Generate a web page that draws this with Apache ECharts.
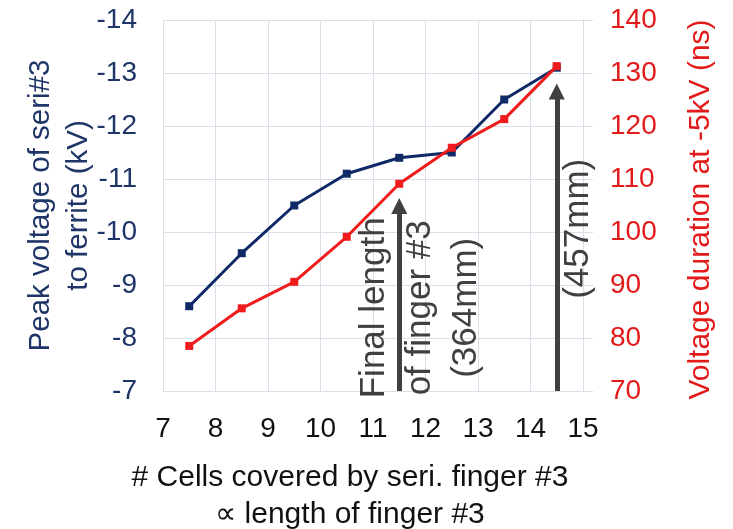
<!DOCTYPE html>
<html>
<head>
<meta charset="utf-8">
<script src="https://cdn.jsdelivr.net/npm/echarts@6/dist/echarts.min.js"></script>
<style>
  html, body { margin: 0; padding: 0; background: #ffffff; }
  #chart { width: 733px; height: 529px; }
</style>
</head>
<body>
<div id="chart"></div>
<script>
// Number of cells covered by the serial finger #3
const cells = [7.5, 8.5, 9.5, 10.5, 11.5, 12.5, 13.5, 14.5];
// Peak voltage of seri#3 to ferrite (kV)
const peakVoltage = [-8.6, -9.6, -10.5, -11.1, -11.4, -11.5, -12.5, -13.1];
// Voltage duration at -5kV (ns)
const duration = [78.5, 85.6, 90.6, 99.1, 109.1, 115.9, 121.3, 131.3];

// Axis ranges
const xRange = [7, 15];
const leftRange = [-14, -7];
const rightRange = [70, 140];

// Final-length markers: [cells, arrow head centre (ns)]
const finalMarks = [[11.5, 104.9], [14.5, 126.5]];
const markLabels = ['Final length\nof finger #3\n(364mm)', '(457mm)'];
// Label anchors in data space: [cells, ns]
const labelAnchors = [[11.9, 85.7], [14.91, 100.6]];

const FONT = '"Liberation Sans", Arial, sans-serif';
const NAVY = '#0f2a66';
const NAVY_TEXT = '#1f3567';
const RED = '#ee1c1c';
const RED_TEXT = '#e21a1a';
const GRID = '#d9dee8';
const ANNOT = '#404040';

const chart = echarts.init(document.getElementById('chart'), null, { renderer: 'canvas' });

const option = {
  backgroundColor: '#ffffff',
  animation: false,
  grid: {
    left: 163, right: 150, top: 20, bottom: 138,
    containLabel: false,
    outerBoundsMode: 'none'
  },
  xAxis: {
    type: 'value',
    min: xRange[0], max: xRange[1], interval: 1,
    axisLine: { show: true, lineStyle: { color: GRID, width: 1 } },
    axisTick: { show: false },
    splitLine: { show: true, lineStyle: { color: GRID, width: 1 } },
    axisLabel: { color: '#111111', fontSize: 28, fontFamily: FONT, margin: 24 },
    name: '# Cells covered by seri. finger #3\n\u221D length of finger #3',
    nameLocation: 'middle',
    nameGap: 105,
    nameMoveOverlap: false,
    nameTextStyle: {
      color: '#111111', fontSize: 30, fontFamily: FONT, lineHeight: 37,
      verticalAlign: 'middle', padding: [0, 46, 0, 0]
    }
  },
  yAxis: [
    {
      type: 'value',
      inverse: true,
      min: leftRange[0], max: leftRange[1], interval: 1,
      axisLine: { show: true, lineStyle: { color: GRID, width: 1 } },
      axisTick: { show: false },
      splitLine: { show: true, lineStyle: { color: GRID, width: 1 } },
      axisLabel: { color: NAVY_TEXT, fontSize: 28, fontFamily: FONT, margin: 26 },
      name: 'Peak voltage of seri#3\nto ferrite (kV)',
      nameLocation: 'middle',
      nameRotate: 90,
      nameGap: 103,
      nameMoveOverlap: false,
      nameTextStyle: {
        color: NAVY_TEXT, fontSize: 29.5, fontFamily: FONT, lineHeight: 38,
        verticalAlign: 'middle'
      }
    },
    {
      type: 'value',
      position: 'right',
      min: rightRange[0], max: rightRange[1], interval: 10,
      axisLine: { show: true, lineStyle: { color: GRID, width: 1 } },
      axisTick: { show: true, inside: false, length: 10, lineStyle: { color: GRID, width: 1 } },
      splitLine: { show: false },
      axisLabel: { color: RED_TEXT, fontSize: 28, fontFamily: FONT, margin: 27 },
      name: 'Voltage duration at -5kV (ns)',
      nameLocation: 'middle',
      nameRotate: 90,
      nameGap: 118,
      nameMoveOverlap: false,
      nameTextStyle: {
        color: RED_TEXT, fontSize: 30, fontFamily: FONT, verticalAlign: 'middle',
        padding: [0, 8, 0, 0]
      }
    }
  ],
  series: [
    {
      name: 'Peak voltage',
      type: 'line',
      yAxisIndex: 0,
      data: cells.map((c, i) => [c, peakVoltage[i]]),
      symbol: 'rect',
      symbolSize: 8,
      lineStyle: { color: NAVY, width: 3 },
      itemStyle: { color: NAVY },
      z: 3
    },
    {
      name: 'Voltage duration',
      type: 'line',
      yAxisIndex: 1,
      data: cells.map((c, i) => [c, duration[i]]),
      symbol: 'rect',
      symbolSize: 8,
      lineStyle: { color: RED, width: 3 },
      itemStyle: { color: RED },
      z: 4,
      markLine: {
        silent: true,
        symbol: ['none', 'triangle'],
        symbolSize: 16,
        label: { show: false },
        lineStyle: { color: ANNOT, width: 5, type: 'solid' },
        itemStyle: { color: ANNOT },
        data: finalMarks.map(m => [
          { coord: [m[0], rightRange[0]] },
          { coord: [m[0], m[1]] }
        ])
      }
    }
  ]
};

chart.setOption(option);

// Rotated annotation labels beside the arrows
const labelGraphics = labelAnchors.map((a, i) => {
  const p = chart.convertToPixel({ xAxisIndex: 0, yAxisIndex: 1 }, a);
  return {
    type: 'text',
    x: p[0], y: p[1],
    rotation: Math.PI / 2,
    silent: true,
    z: 10,
    style: {
      text: markLabels[i],
      fill: ANNOT,
      font: '35px ' + FONT,
      align: 'center',
      verticalAlign: 'middle',
      lineHeight: 46
    }
  };
});
chart.setOption({ graphic: labelGraphics });
</script>
</body>
</html>
